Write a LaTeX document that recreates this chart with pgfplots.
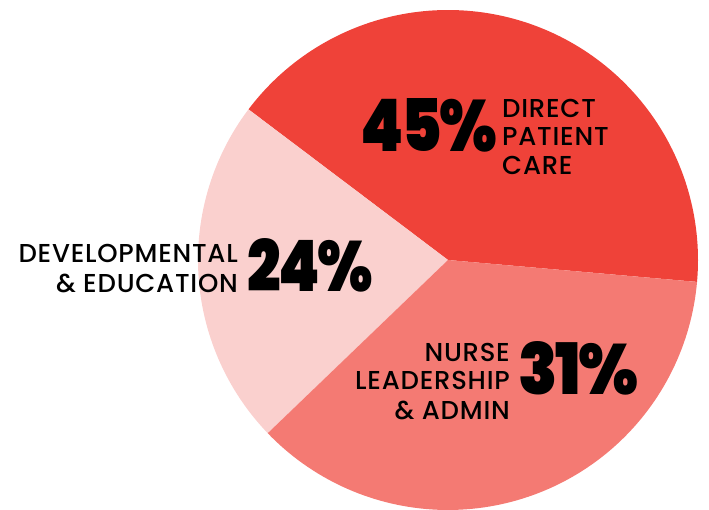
\documentclass[border=0pt]{standalone}
\usepackage{fontspec}
\setmainfont{Poppins}
\newfontfamily\heavy{Poppins Black}[LetterSpace=-4]
\newfontfamily\med{Poppins Medium}[LetterSpace=3]
\usepackage{pgfplots}
\usepackage{pgfplotstable}
\pgfplotsset{compat=1.18}
\definecolor{cRed}{RGB}{239,66,57}
\definecolor{cSalmon}{RGB}{244,122,115}
\definecolor{cPink}{RGB}{250,208,206}
% share (label value, %) and slice boundaries (degrees)
\pgfplotstableread{
share start end
45 -5.03 142.95
24 142.95 223.86
31 223.86 354.97
}\slices
\pgfplotstablegetelem{0}{start}\of\slices \let\aS\pgfplotsretval
\pgfplotstablegetelem{0}{end}\of\slices \let\aE\pgfplotsretval
\pgfplotstablegetelem{1}{start}\of\slices \let\bS\pgfplotsretval
\pgfplotstablegetelem{1}{end}\of\slices \let\bE\pgfplotsretval
\pgfplotstablegetelem{2}{start}\of\slices \let\cS\pgfplotsretval
\pgfplotstablegetelem{2}{end}\of\slices \let\cE\pgfplotsretval
\pgfplotstablegetelem{0}{share}\of\slices \let\aV\pgfplotsretval
\pgfplotstablegetelem{1}{share}\of\slices \let\bV\pgfplotsretval
\pgfplotstablegetelem{2}{share}\of\slices \let\cV\pgfplotsretval
\newcommand\bignum[2]{\resizebox{#1}{53bp}{\fontsize{78}{78}\heavy #2}}
\begin{document}
\begin{tikzpicture}
\begin{axis}[
  width=709bp, height=510bp, scale only axis,
  xmin=0, xmax=709, ymin=0, ymax=510,
  hide axis, clip=false,
]
\addplot[fill=cRed, draw=none, domain=\aS:\aE, samples=120, variable=\t]
  ({448+250*cos(\t)},{250+250*sin(\t)}) -- (axis cs:448,250) -- cycle;
\addplot[fill=cPink, draw=none, domain=\bS:\bE, samples=80, variable=\t]
  ({448+250*cos(\t)},{250+250*sin(\t)}) -- (axis cs:448,250) -- cycle;
\addplot[fill=cSalmon, draw=none, domain=\cS:\cE, samples=100, variable=\t]
  ({448+250*cos(\t)},{250+250*sin(\t)}) -- (axis cs:448,250) -- cycle;

% big numbers
\node[anchor=base west, inner sep=0pt] at (axis cs:360,358) {\bignum{137bp}{\aV\%}};
\node[anchor=base west, inner sep=0pt] at (axis cs:247,218) {\bignum{126bp}{\bV\%}};
\node[anchor=base west, inner sep=0pt] at (axis cs:518,115) {\bignum{120bp}{\cV\%}};

% labels
\begin{scope}[every node/.style={inner sep=0pt, font=\fontsize{26}{26}\med}]
\node[anchor=base west] at (axis cs:502,392) {DIRECT};
\node[anchor=base west] at (axis cs:502,364) {PATIENT};
\node[anchor=base west] at (axis cs:502,335) {CARE};
\node[anchor=base east] at (axis cs:238,247) {DEVELOPMENTAL};
\node[anchor=base east] at (axis cs:238,217) {\& EDUCATION};
\node[anchor=base east] at (axis cs:510,148) {NURSE};
\node[anchor=base east] at (axis cs:510,120) {LEADERSHIP};
\node[anchor=base east] at (axis cs:510,90) {\& ADMIN};
\end{scope}
\end{axis}
\pgfresetboundingbox
\path (current axis.south west) rectangle (current axis.north east);
\end{tikzpicture}
\end{document}
